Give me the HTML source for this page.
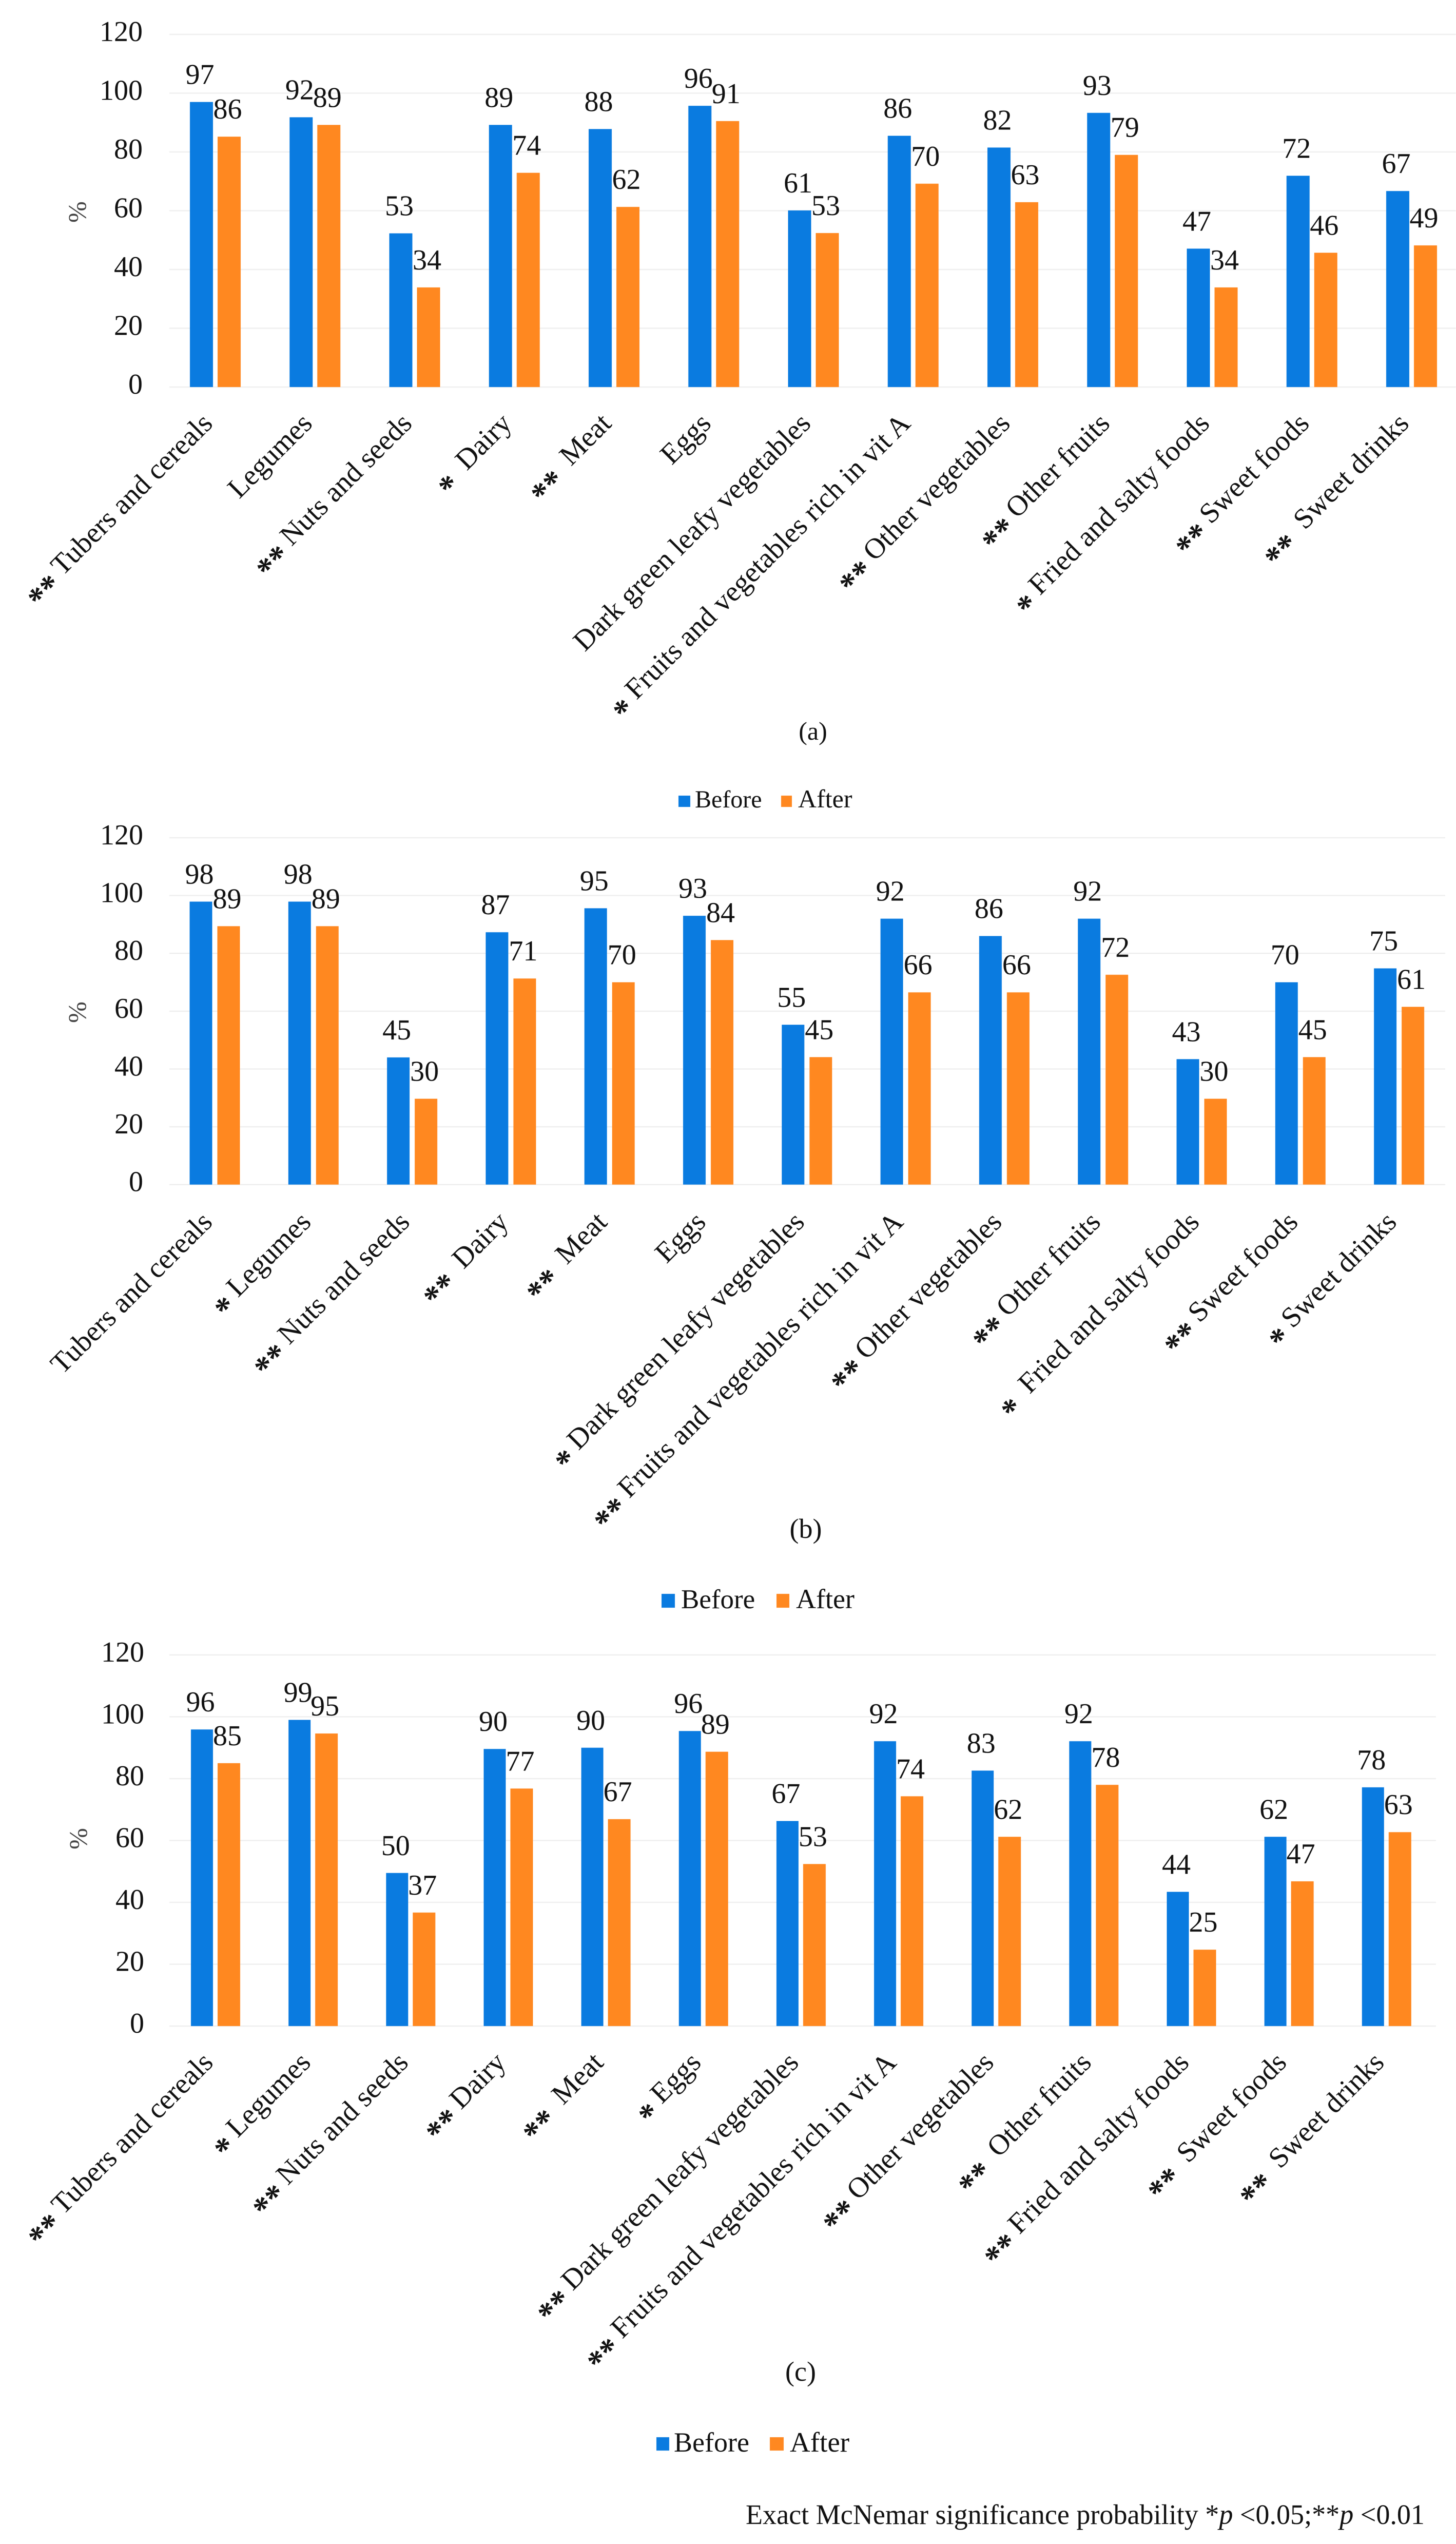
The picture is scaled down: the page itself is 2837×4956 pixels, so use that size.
<!DOCTYPE html>
<html lang="en">
<head>
<meta charset="utf-8">
<title>Food group consumption before and after</title>
<style>
html,body{margin:0;padding:0;background:#fff;width:2837px;height:4956px;overflow:hidden}
svg{display:block;filter:blur(0.9px)}
text{font-family:"Liberation Serif",serif;fill:#111;white-space:pre}
</style>
</head>
<body>
<svg id="figure" xmlns="http://www.w3.org/2000/svg" width="2837" height="4956" viewBox="0 0 2837 4956">
<rect x="0" y="0" width="2837" height="4956" fill="#fff"/>

<g id="panel-a"></g>
<text x="1584" y="1441" font-size="50" text-anchor="middle">(a)</text>
<g>
  <rect x="1322" y="1550" width="23" height="22" fill="#0a7be0"/>
  <text x="1354" y="1573" font-size="48">Before</text>
  <rect x="1522" y="1550" width="21" height="22" fill="#ff8820"/>
  <text x="1555" y="1573" font-size="50">After</text>
</g>

<g id="panel-b"></g>
<text x="1570" y="2996" font-size="54" text-anchor="middle">(b)</text>
<g>
  <rect x="1289" y="3105" width="26" height="27" fill="#0a7be0"/>
  <text x="1327" y="3133" font-size="53">Before</text>
  <rect x="1513" y="3105" width="25" height="27" fill="#ff8820"/>
  <text x="1551" y="3133" font-size="54">After</text>
</g>

<g id="panel-c"></g>
<text x="1560" y="4638" font-size="54" text-anchor="middle">(c)</text>
<g>
  <rect x="1279" y="4748" width="25" height="26" fill="#0a7be0"/>
  <text x="1313" y="4776" font-size="54">Before</text>
  <rect x="1500" y="4748" width="27" height="26" fill="#ff8820"/>
  <text x="1539" y="4776" font-size="55">After</text>
</g>

<text x="1453" y="4917" font-size="55" textLength="1323" lengthAdjust="spacingAndGlyphs">Exact McNemar significance probability *<tspan font-style="italic">p</tspan> &lt;0.05;**<tspan font-style="italic">p</tspan> &lt;0.01</text>
</svg>

<script>
const yTicks = [0, 20, 40, 60, 80, 100, 120];

const categoriesA = ['** Tubers and cereals', 'Legumes', '** Nuts and seeds', '*  Dairy', '**  Meat', 'Eggs', 'Dark green leafy vegetables', '* Fruits and vegetables rich in vit A', '** Other vegetables', '** Other fruits', '* Fried and salty foods', '** Sweet foods', '**  Sweet drinks'];
const beforeA = [97, 91.8, 52.3, 89.2, 87.8, 95.7, 60.1, 85.5, 81.5, 93.3, 47.1, 71.9, 66.7];
const afterA = [85.2, 89.2, 33.9, 72.9, 61.3, 90.5, 52.4, 69.2, 62.9, 79, 33.9, 45.7, 48.2];
const printedBeforeA = [97, 92, 53, 89, 88, 96, 61, 86, 82, 93, 47, 72, 67];
const printedAfterA = [86, 89, 34, 74, 62, 91, 53, 70, 63, 79, 34, 46, 49];

const categoriesB = ['Tubers and cereals', '* Legumes', '** Nuts and seeds', '**  Dairy', '**  Meat', 'Eggs', '* Dark green leafy vegetables', '** Fruits and vegetables rich in vit A', '** Other vegetables', '** Other fruits', '*  Fried and salty foods', '** Sweet foods', '* Sweet drinks'];
const beforeB = [97.9, 97.9, 44, 87.3, 95.6, 93, 55.3, 92, 86, 92, 43.4, 70, 74.8];
const afterB = [89.4, 89.4, 29.7, 71.3, 70, 84.6, 44.1, 66.5, 66.5, 72.6, 29.7, 44.1, 61.5];
const printedBeforeB = [98, 98, 45, 87, 95, 93, 55, 92, 86, 92, 43, 70, 75];
const printedAfterB = [89, 89, 30, 71, 70, 84, 45, 66, 66, 72, 30, 45, 61];

const categoriesC = ['** Tubers and cereals', '* Legumes', '** Nuts and seeds', '** Dairy', '**  Meat', '* Eggs', '** Dark green leafy vegetables', '** Fruits and vegetables rich in vit A', '** Other vegetables', '**  Other fruits', '** Fried and salty foods', '**  Sweet foods', '**  Sweet drinks'];
const beforeC = [95.9, 99, 49.5, 89.6, 90, 95.4, 66.3, 92.1, 82.6, 92.1, 43.4, 61.2, 77.2];
const afterC = [85, 94.6, 36.7, 76.8, 66.9, 88.7, 52.4, 74.3, 61.2, 78, 24.7, 46.8, 62.7];
const printedBeforeC = [96, 99, 50, 90, 90, 96, 67, 92, 83, 92, 44, 62, 78];
const printedAfterC = [85, 95, 37, 77, 67, 89, 53, 74, 62, 78, 25, 47, 63];

const SVG_NS = 'http://www.w3.org/2000/svg';
const BLUE = '#0a7be0';
const ORANGE = '#ff8820';

function drawPanel(groupId, layout, categories, before, after, printedBefore, printedAfter) {
  const group = document.getElementById(groupId);
  const yScale = function (v) { return layout.y0 - v * (layout.y0 - layout.yTop) / 120; };
  const xScale = function (i) { return layout.x0 + i * layout.step; };

  yTicks.forEach(function (tick) {
    const grid = document.createElementNS(SVG_NS, 'line');
    
    
    grid.setAttribute('x1', 330);
    grid.setAttribute('x2', layout.gridEnd);
    grid.setAttribute('y1', yScale(tick));
    grid.setAttribute('y2', yScale(tick));
    grid.setAttribute('stroke', '#efefef');
    grid.setAttribute('stroke-width', 2.5);
    group.appendChild(grid);

    const label = document.createElementNS(SVG_NS, 'text');
    
    
    label.setAttribute('x', layout.tickX);
    label.setAttribute('y', yScale(tick) + 13);
    label.setAttribute('font-size', 56);
    label.setAttribute('text-anchor', 'end');
    label.textContent = String(tick);
    group.appendChild(label);
  });

  const axisTitle = document.createElementNS(SVG_NS, 'text');
  
  
  axisTitle.setAttribute('font-size', 50);
  axisTitle.setAttribute('text-anchor', 'middle');
  axisTitle.setAttribute('style', 'fill:#444');
  axisTitle.setAttribute('transform', 'translate(' + (layout.pctX + 15) + ' ' + layout.pctY + ') rotate(-90)');
  axisTitle.textContent = '%';
  group.appendChild(axisTitle);

  categories.forEach(function (category, i) {
    const x = xScale(i);
    const slug = category.replace(/[^A-Za-z]+/g, ' ').trim().toLowerCase().replace(/ /g, '-');

    const barBefore = document.createElementNS(SVG_NS, 'rect');
    
    
    barBefore.setAttribute('x', x);
    barBefore.setAttribute('y', yScale(before[i]));
    barBefore.setAttribute('width', layout.blueW);
    barBefore.setAttribute('height', yScale(0) - yScale(before[i]));
    barBefore.setAttribute('fill', BLUE);
    group.appendChild(barBefore);

    const barAfter = document.createElementNS(SVG_NS, 'rect');
    
    
    barAfter.setAttribute('x', x + layout.orangeOffset);
    barAfter.setAttribute('y', yScale(after[i]));
    barAfter.setAttribute('width', layout.orangeW);
    barAfter.setAttribute('height', yScale(0) - yScale(after[i]));
    barAfter.setAttribute('fill', ORANGE);
    group.appendChild(barAfter);

    const valueBefore = document.createElementNS(SVG_NS, 'text');
    
    
    valueBefore.setAttribute('x', x + layout.blueW / 2 - 3);
    valueBefore.setAttribute('y', yScale(before[i]) - 35);
    valueBefore.setAttribute('font-size', 56);
    valueBefore.setAttribute('text-anchor', 'middle');
    valueBefore.textContent = String(printedBefore[i]);
    group.appendChild(valueBefore);

    const valueAfter = document.createElementNS(SVG_NS, 'text');
    
    
    valueAfter.setAttribute('x', x + layout.orangeOffset + layout.orangeW / 2 - 3);
    valueAfter.setAttribute('y', yScale(after[i]) - 35);
    valueAfter.setAttribute('font-size', 56);
    valueAfter.setAttribute('text-anchor', 'middle');
    valueAfter.textContent = String(printedAfter[i]);
    group.appendChild(valueAfter);

    const match = category.match(/^(\*+)(\s+)(.*)$/);
    const catLabel = document.createElementNS(SVG_NS, 'text');
    
    
    catLabel.setAttribute('font-size', 56);
    catLabel.setAttribute('text-anchor', 'end');
    catLabel.setAttribute('transform', 'translate(' + (x + layout.labelDx) + ' ' + (layout.y0 + layout.labelDy) + ') rotate(-45)');
    if (match) {
      const stars = document.createElementNS(SVG_NS, 'tspan');
      
      
      stars.setAttribute('font-weight', 'bold');
      stars.setAttribute('font-size', 64);
      stars.setAttribute('dy', 18);
      stars.textContent = match[1];
      catLabel.appendChild(stars);
      const name = document.createElementNS(SVG_NS, 'tspan');
      
      
      name.setAttribute('dy', -18);
      name.textContent = match[2] + match[3];
      catLabel.appendChild(name);
    } else {
      catLabel.textContent = category;
    }
    group.appendChild(catLabel);
  });
}

drawPanel('panel-a', {x0: 370, step: 194.25, blueW: 45, orangeOffset: 54, orangeW: 45, y0: 754, yTop: 67, gridEnd: 2837, tickX: 278, pctX: 152, pctY: 413, labelDx: 47, labelDy: 74}, categoriesA, beforeA, afterA, printedBeforeA, printedAfterA);
drawPanel('panel-b', {x0: 369.5, step: 192.3, blueW: 44, orangeOffset: 54, orangeW: 44, y0: 2307.7, yTop: 1632, gridEnd: 2816, tickX: 279, pctX: 152, pctY: 1972, labelDx: 47, labelDy: 76}, categoriesB, beforeB, afterB, printedBeforeB, printedAfterB);
drawPanel('panel-c', {x0: 372, step: 190.15, blueW: 43, orangeOffset: 52, orangeW: 44, y0: 3947, yTop: 3224, gridEnd: 2798, tickX: 281, pctX: 154, pctY: 3582, labelDx: 46, labelDy: 74}, categoriesC, beforeC, afterC, printedBeforeC, printedAfterC);
</script>
</body>
</html>
